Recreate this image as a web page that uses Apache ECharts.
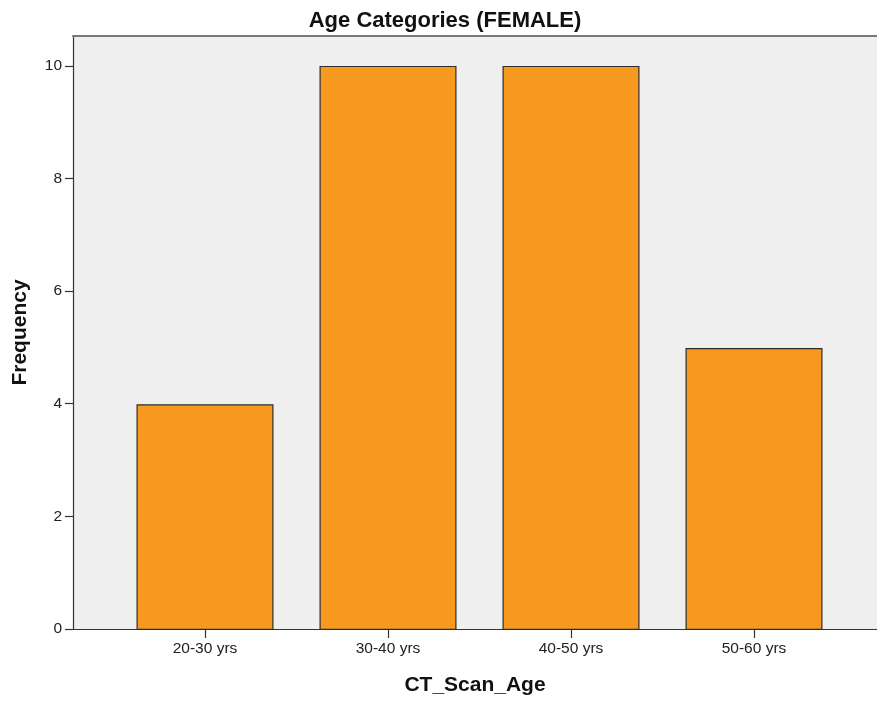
<!DOCTYPE html>
<html>
<head>
<meta charset="utf-8">
<script src="https://cdn.jsdelivr.net/npm/echarts@6/dist/echarts.min.js"></script>
<style>
  html, body { margin: 0; padding: 0; background: #fff; }
  #chart { width: 877px; height: 701px; }
</style>
</head>
<body>
<div id="chart"></div>
<script>
// data
const ageGroups = ['20-30 yrs', '30-40 yrs', '40-50 yrs', '50-60 yrs'];
const frequency = [4, 10, 10, 5];
const yTicks = [0, 2, 4, 6, 8, 10];

const font = 'Liberation Sans, Arial, sans-serif';
const chart = echarts.init(document.getElementById('chart'));

const option = {
  animation: false,
  textStyle: { fontFamily: font },
  title: {
    text: 'Age Categories (FEMALE)',
    left: 440,
    textAlign: 'center',
    top: 5,
    textStyle: { fontSize: 22, fontWeight: 'bold', color: '#111', fontFamily: font }
  },
  grid: [
    // background frame
    {
      left: 73, top: 36, right: 0, bottom: 71,
      show: true, backgroundColor: '#efefef', borderWidth: 0
    },
    // bars
    { left: 113.5, top: 36, width: 732, bottom: 71 }
  ],
  xAxis: [
    {
      gridIndex: 0, type: 'value', min: 0, max: 1,
      axisLine: { show: true, onZero: false, lineStyle: { color: '#333', width: 1.2 } },
      axisTick: { show: false }, axisLabel: { show: false }, splitLine: { show: false },
      name: 'CT_Scan_Age', nameLocation: 'middle', nameGap: 46,
      nameTextStyle: { fontSize: 21, fontWeight: 'bold', color: '#111', fontFamily: font }
    },
    {
      gridIndex: 1, type: 'category', data: ageGroups,
      axisLine: { show: false },
      axisTick: { show: true, alignWithLabel: true, length: 8, lineStyle: { color: '#333', width: 1.2 } },
      axisLabel: { fontSize: 15.5, color: '#222', margin: 11 }
    },
    // top frame line
    {
      gridIndex: 0, type: 'value', min: 0, max: 1, position: 'top',
      axisLine: { show: true, onZero: false, lineStyle: { color: '#777', width: 2 } },
      axisTick: { show: false }, axisLabel: { show: false }, splitLine: { show: false }
    }
  ],
  yAxis: [
    {
      gridIndex: 0, type: 'value', min: 0, max: 10.53,
      customValues: yTicks,
      axisLine: { show: true, lineStyle: { color: '#333', width: 1.2 } },
      axisTick: { show: true, length: 8, customValues: yTicks, lineStyle: { color: '#333', width: 1.2 } },
      axisLabel: { fontSize: 15.5, color: '#222', margin: 11, customValues: yTicks },
      splitLine: { show: false },
      name: 'Frequency', nameLocation: 'middle', nameGap: 42, nameRotate: 90,
      nameTextStyle: { fontSize: 21, fontWeight: 'bold', color: '#111', fontFamily: font }
    },
    {
      gridIndex: 1, type: 'value', min: 0, max: 10.53, show: false
    }
  ],
  series: [
    {
      type: 'bar',
      xAxisIndex: 1,
      yAxisIndex: 1,
      data: frequency,
      barWidth: 137,
      itemStyle: { color: '#f7991f', borderColor: '#2d2d2d', borderWidth: 1.2 }
    }
  ]
};

chart.setOption(option);
</script>
</body>
</html>
